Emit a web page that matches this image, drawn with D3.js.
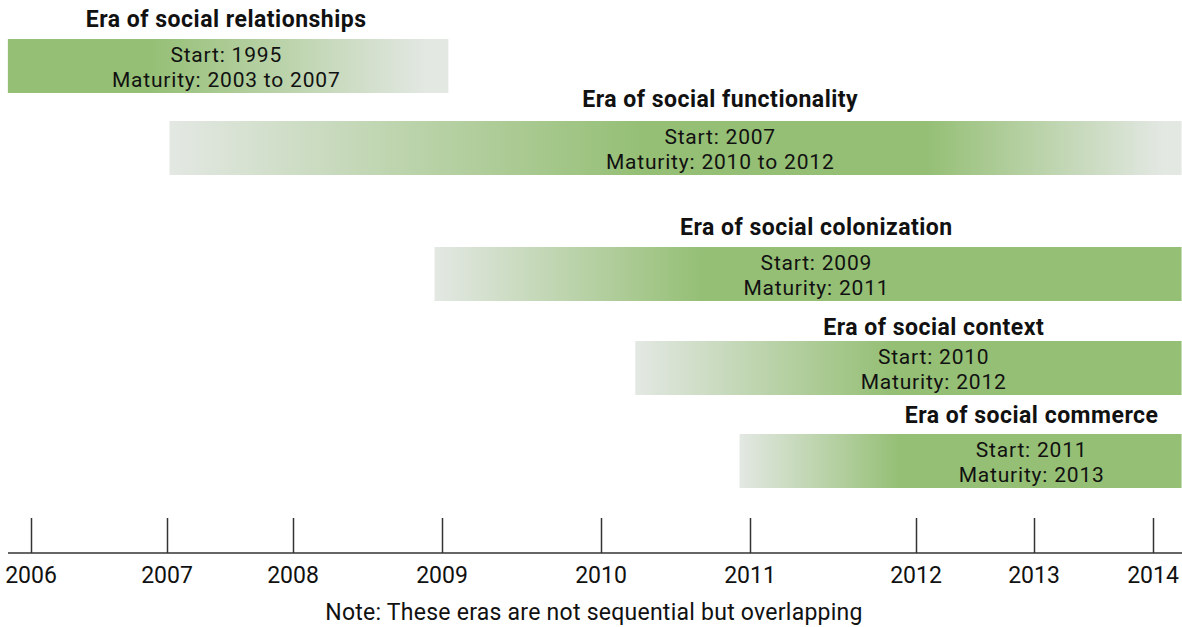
<!DOCTYPE html>
<html>
<head>
<meta charset="utf-8">
<script src="https://d3js.org/d3.v7.min.js"></script>
<style>
  body { margin: 0; padding: 0; background: #fff; }
  svg text { font-family: Roboto, "Noto Sans", sans-serif; fill: #111; font-size: 23px; }
  .title { font-weight: bold; letter-spacing: 0.5px; }
  .info { font-size: 21px; letter-spacing: 0.8px; }
  .note { letter-spacing: 0.25px; }
</style>
</head>
<body>
<div id="chart"></div>
<script>
// eras, their span on the time axis, and where each one is at full strength
var eras = ["Era of social relationships", "Era of social functionality", "Era of social colonization",
            "Era of social context", "Era of social commerce"];
var startLabels = ["Start: 1995", "Start: 2007", "Start: 2009", "Start: 2010", "Start: 2011"];
var maturityLabels = ["Maturity: 2003 to 2007", "Maturity: 2010 to 2012", "Maturity: 2011",
                      "Maturity: 2012", "Maturity: 2013"];
var spanFrom = [2005.83, 2007.02, 2008.95, 2010.23, 2010.93];
var spanTo   = [2009.04, 2014.24, 2014.24, 2014.24, 2014.24];
var peakFrom = [2005.83, 2010.28, 2010.68, 2011.85, 2011.9];
var peakTo   = [2006.87, 2012.09, 2014.24, 2014.24, 2014.24];
var labelAt  = [2007.47, 2010.8, 2011.4, 2012.15, 2012.98];
var tickYears = [2006, 2007, 2008, 2009, 2010, 2011, 2012, 2013, 2014];
var note = "Note: These eras are not sequential but overlapping";

var width = 1182, height = 627;
var green = "#95bf75", pale = "#e3e8e3";

var svg = d3.select("#chart").append("svg")
    .attr("width", width)
    .attr("height", height);

// the original axis is not evenly spaced, so use a piecewise scale
var x = d3.scaleLinear()
    .domain(tickYears)
    .range([31, 167, 293, 442, 601, 750, 916, 1034, 1153]);

// layout of the rows (tops of the bars, gap to the title)
var rowTop = [39, 121, 247, 341, 434];
var titleGap = [12, 14, 12, 6, 11];
var barH = 54;

var defs = svg.append("defs");

eras.forEach(function (name, i) {
    var x0 = x(spanFrom[i]), x1 = x(spanTo[i]);
    var w = x1 - x0;
    var off = function (yr) { return Math.max(0, Math.min(1, (x(yr) - x0) / w)); };

    var grad = defs.append("linearGradient")
        .attr("id", "g" + i)
        .attr("x1", "0%").attr("x2", "100%")
        .attr("y1", "0%").attr("y2", "0%");

    var stops = [];
    if (off(peakFrom[i]) > 0) stops.push([0, pale]);
    stops.push([off(peakFrom[i]), green]);
    stops.push([off(peakTo[i]), green]);
    if (off(peakTo[i]) < 1) {
        stops.push([Math.min(1, off(peakTo[i]) + (1 - off(peakTo[i])) * 0.93), pale]);
        stops.push([1, pale]);
    }
    stops.forEach(function (s) {
        grad.append("stop").attr("offset", s[0]).attr("stop-color", s[1]);
    });

    svg.append("rect")
        .attr("x", x0)
        .attr("y", rowTop[i])
        .attr("width", w)
        .attr("height", barH)
        .attr("fill", "url(#g" + i + ")");

    var cx = x(labelAt[i]);
    svg.append("text")
        .attr("class", "title")
        .attr("x", cx)
        .attr("y", rowTop[i] - titleGap[i])
        .attr("text-anchor", "middle")
        .text(name);

    svg.append("text")
        .attr("class", "info")
        .attr("x", cx)
        .attr("y", rowTop[i] + 23)
        .attr("text-anchor", "middle")
        .text(startLabels[i]);

    svg.append("text")
        .attr("class", "info")
        .attr("x", cx)
        .attr("y", rowTop[i] + 48)
        .attr("text-anchor", "middle")
        .text(maturityLabels[i]);
});

// time axis
var axisY = 553;
var axis = svg.append("g")
    .attr("transform", "translate(0," + axisY + ")")
    .call(d3.axisTop(x).tickValues(tickYears).tickSize(35).tickFormat(d3.format("d")));
axis.select(".domain").remove();
axis.selectAll(".tick line").attr("stroke", "#333").attr("stroke-width", 1.5);
axis.selectAll(".tick text").remove();

svg.append("line")
    .attr("x1", 8).attr("x2", width)
    .attr("y1", axisY).attr("y2", axisY)
    .attr("stroke", "#333").attr("stroke-width", 1.5);

svg.append("g").selectAll("text")
    .data(tickYears)
    .enter()
    .append("text")
    .attr("x", function (d) { return x(d); })
    .attr("y", 583)
    .attr("text-anchor", "middle")
    .text(function (d) { return d; });

svg.append("text")
    .attr("class", "note")
    .attr("x", 594)
    .attr("y", 620)
    .attr("text-anchor", "middle")
    .text(note);
</script>
</body>
</html>
